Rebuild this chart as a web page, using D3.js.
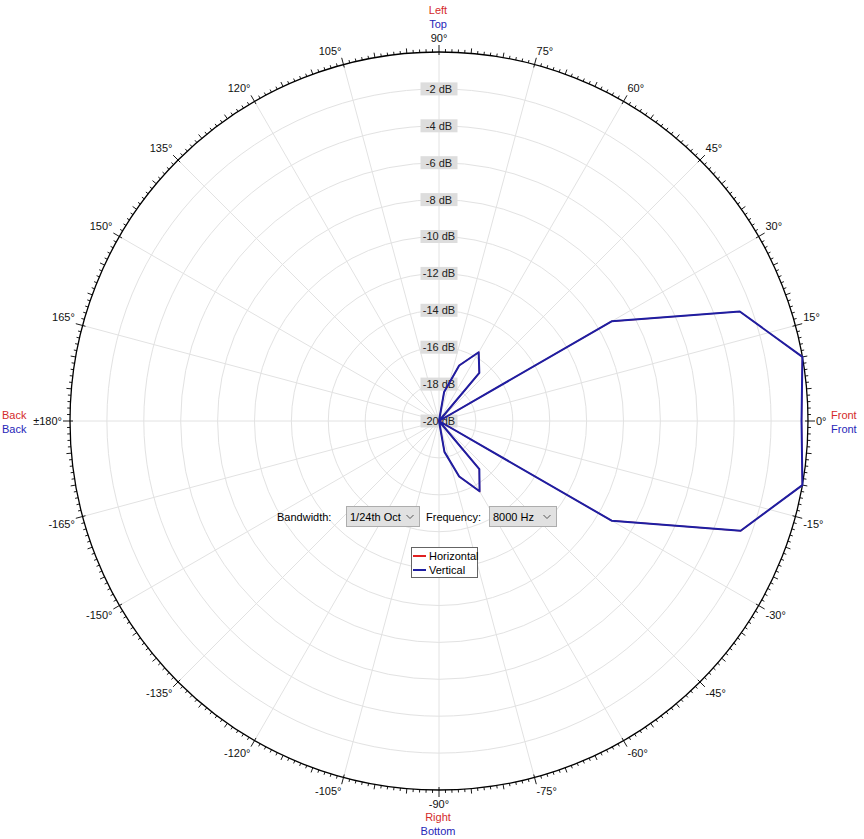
<!DOCTYPE html>
<html>
<head>
<meta charset="utf-8">
<style>
  body { margin: 0; background: #fff; }
  svg { display: block; font-family: "Liberation Sans", Arial, sans-serif; }
</style>
</head>
<body>
<div id="polar"></div>
<script src="https://d3js.org/d3.v7.min.js"></script>
<script>
// angles in degrees, 0 = front (right), counter-clockwise positive
var angles = [-180, -170, -160, -150, -140, -130, -120, -110, -100, -90,
              -80, -70, -60, -50, -40, -30, -20, -10, 0,
              10, 20, 30, 40, 50, 60, 70, 80, 90,
              100, 110, 120, 130, 140, 150, 160, 170];

// response in dB at 8000 Hz (horizontal sits right under vertical)
var horizontal = [-20, -20, -20, -20, -20, -20, -20, -20, -20, -20,
                  -18.3, -16.8, -15.6, -16.6, -20, -9.2, -2.6, 0, -0.35,
                  0, -2.65, -9.2, -20, -16.6, -15.7, -16.8, -18.4, -20,
                  -20, -20, -20, -20, -20, -20, -20, -20];
var vertical = [-20, -20, -20, -20, -20, -20, -20, -20, -20, -20,
                -18.3, -16.8, -15.6, -16.6, -20, -9.2, -2.6, 0, -0.35,
                0, -2.65, -9.2, -20, -16.6, -15.7, -16.8, -18.4, -20,
                -20, -20, -20, -20, -20, -20, -20, -20];

var ringValues = [-18, -16, -14, -12, -10, -8, -6, -4, -2];
var ringLabels = [-2, -4, -6, -8, -10, -12, -14, -16, -18, -20];
var spokeAngles = [0, 15, 30, 45, 60, 75, 90, 105, 120, 135, 150, 165,
                   180, 195, 210, 225, 240, 255, 270, 285, 300, 315, 330, 345];
var tickAngles = [0, 15, 30, 45, 60, 75, 90, 105, 120, 135, 150, 165,
                  180, -165, -150, -135, -120, -105, -90, -75, -60, -45, -30, -15];
var tickText = ["0°", "15°", "30°", "45°", "60°", "75°", "90°", "105°", "120°", "135°", "150°", "165°",
                "±180°", "-165°", "-150°", "-135°", "-120°", "-105°", "-90°", "-75°", "-60°", "-45°", "-30°", "-15°"];

var width = 864, height = 839;
var cx = 439, cy = 421, R = 369;
var red = "#d42a2a", blue = "#2626b8", lineBlue = "#1e1ea2";

var svg = d3.select("#polar").append("svg")
    .attr("width", width)
    .attr("height", height);

var r = d3.scaleLinear().domain([-20, 0]).range([0, R]).clamp(true);
var rad = function(deg) { return deg * Math.PI / 180; };

var g = svg.append("g").attr("transform", "translate(" + cx + "," + cy + ")");

// grid rings
g.append("g").selectAll("circle")
    .data(ringValues)
    .enter().append("circle")
      .attr("r", function(d) { return r(d); })
      .attr("fill", "none")
      .attr("stroke", "#e2e2e2")
      .attr("stroke-width", 1);

// spokes
g.append("g").selectAll("line")
    .data(spokeAngles)
    .enter().append("line")
      .attr("x1", 0).attr("y1", 0)
      .attr("x2", function(d) { return R * Math.cos(rad(d)); })
      .attr("y2", function(d) { return -R * Math.sin(rad(d)); })
      .attr("stroke", "#e2e2e2")
      .attr("stroke-width", 1);

// outer circle
g.append("circle")
    .attr("r", r(0))
    .attr("fill", "none")
    .attr("stroke", "#000")
    .attr("stroke-width", 1.3);

// small ticks round the edge, one per degree
var degs = d3.range(0, 360, 1);
g.append("g").selectAll("line")
    .data(degs)
    .enter().append("line")
      .attr("x1", function(d) { return (d % 15 == 0 ? R - 3 : R) * Math.cos(rad(d)); })
      .attr("y1", function(d) { return -(d % 15 == 0 ? R - 3 : R) * Math.sin(rad(d)); })
      .attr("x2", function(d) { var l = d % 15 == 0 ? 7 : (d % 5 == 0 ? 5 : 3); return (R + l) * Math.cos(rad(d)); })
      .attr("y2", function(d) { var l = d % 15 == 0 ? 7 : (d % 5 == 0 ? 5 : 3); return -(R + l) * Math.sin(rad(d)); })
      .attr("stroke", "#000")
      .attr("stroke-width", 0.9);

// angle labels
var sgn = function(v) { return Math.abs(v) < 0.05 ? 0 : (v > 0 ? 1 : -1); };
g.append("g").selectAll("text")
    .data(tickAngles)
    .enter().append("text")
      .style("font-size", "11px")
      .attr("text-anchor", "middle")
      .attr("dy", "0.35em")
      .attr("fill", "#111")
      .text(function(d, i) { return tickText[i]; })
      .each(function(d) {
        var w = this.getComputedTextLength();
        var c = Math.cos(rad(d)), s = Math.sin(rad(d));
        var px = (R + 8) * c + (w / 2) * sgn(c);
        var py = -(R + 8) * s - 6 * sgn(s);
        d3.select(this).attr("x", px).attr("y", py);
      });

// dB labels up the 90° spoke
var dbl = g.append("g").selectAll("g")
    .data(ringLabels)
    .enter().append("g")
      .attr("transform", function(d) { return "translate(0," + (-r(d)) + ")"; });
dbl.append("rect")
    .attr("x", -18.5).attr("y", -6.5)
    .attr("width", 37).attr("height", 13)
    .attr("fill", "#dddddd");
dbl.append("text")
    .attr("text-anchor", "middle")
    .attr("dy", "0.36em")
    .style("font-size", "11px")
    .attr("fill", "#222")
    .text(function(d) { return d + " dB"; });

// data
var line = d3.lineRadial()
    .angle(function(d) { return rad(90 - d[0]); })
    .radius(function(d) { return r(d[1]); })
    .curve(d3.curveLinearClosed);

g.append("path")
    .datum(angles.map(function(a, i) { return [a, horizontal[i]]; }))
    .attr("d", line)
    .attr("fill", "none")
    .attr("stroke", "#e02020")
    .attr("stroke-width", 1.2);

g.append("path")
    .datum(angles.map(function(a, i) { return [a, vertical[i]]; }))
    .attr("d", line)
    .attr("fill", "none")
    .attr("stroke", lineBlue)
    .attr("stroke-width", 2)
    .attr("stroke-linejoin", "round");

// direction names
function word(x, y, t, col, anchor) {
  svg.append("text")
    .attr("x", x).attr("y", y)
    .attr("dy", "0.35em")
    .attr("text-anchor", anchor || "middle")
    .style("font-size", "11px")
    .attr("fill", col)
    .text(t);
}
word(438, 10, "Left", red);
word(438, 24, "Top", blue);
word(438, 817, "Right", red);
word(438, 831, "Bottom", blue);
word(2, 415, "Back", red, "start");
word(2, 429, "Back", blue, "start");
word(831, 415, "Front", red, "start");
word(831, 429, "Front", blue, "start");

// controls
word(277, 517, "Bandwidth:", "#000", "start");
word(426, 517, "Frequency:", "#000", "start");
function combo(x, w, t) {
  svg.append("rect")
    .attr("x", x + 0.5).attr("y", 506.5)
    .attr("width", w).attr("height", 20)
    .attr("fill", "#e1e1e1")
    .attr("stroke", "#adadad");
  word(x + 4, 517, t, "#000", "start");
  var ax = x + w - 9;
  svg.append("path")
    .attr("d", "M" + (ax - 3.5) + ",515 L" + ax + ",518.5 L" + (ax + 3.5) + ",515")
    .attr("fill", "none")
    .attr("stroke", "#555")
    .attr("stroke-width", 1);
}
combo(346, 73, "1/24th Oct");
combo(489, 67, "8000 Hz");

// legend
var keys = ["Horizontal", "Vertical"];
var keyColors = ["#e02020", "#1e1ea2"];
svg.append("rect")
    .attr("x", 411.5).attr("y", 547.5)
    .attr("width", 66).attr("height", 30)
    .attr("fill", "#fff")
    .attr("stroke", "#646464");
var lg = svg.append("g").selectAll("g")
    .data(keys)
    .enter().append("g")
      .attr("transform", function(d, i) { return "translate(0," + (556 + i * 14) + ")"; });
lg.append("line")
    .attr("x1", 413).attr("x2", 426)
    .attr("stroke", function(d, i) { return keyColors[i]; })
    .attr("stroke-width", 2);
lg.append("text")
    .attr("x", 429)
    .attr("dy", "0.35em")
    .style("font-size", "11px")
    .text(function(d) { return d; });
</script>
</body>
</html>
